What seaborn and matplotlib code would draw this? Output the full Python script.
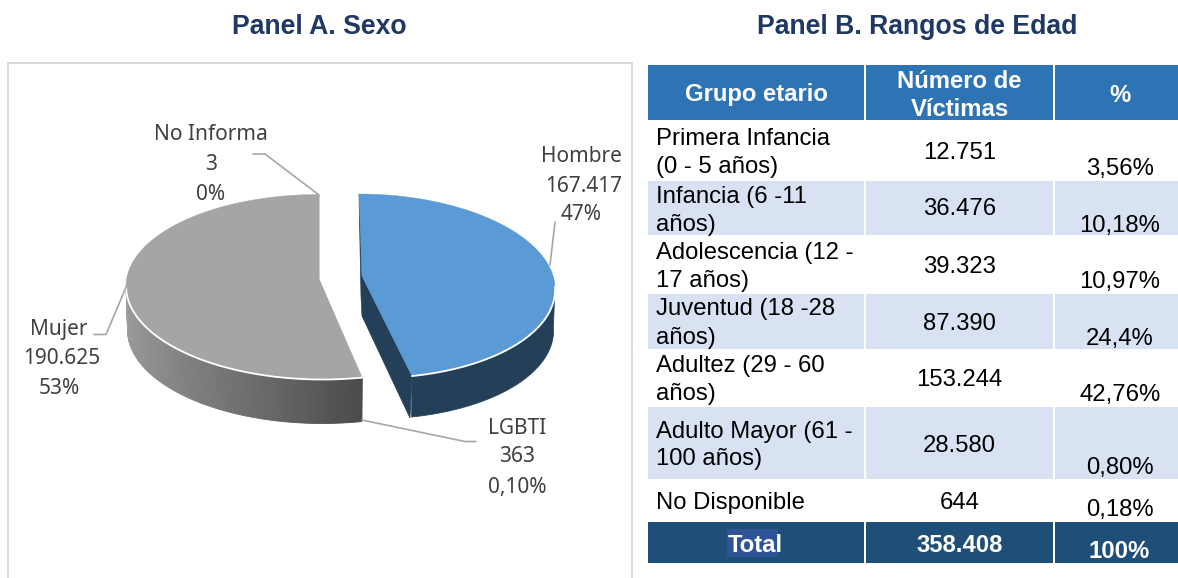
import numpy as np
import matplotlib
matplotlib.use("Agg")
import matplotlib.pyplot as plt
from matplotlib.patches import Rectangle, Polygon
import seaborn as sns

# ---------- data ----------
sex_names = ["Hombre", "LGBTI", "Mujer", "No Informa"]
sex_values = [167417, 363, 190625, 3]
sex_value_labels = ["167.417", "363", "190.625", "3"]
sex_pct_labels = ["47%", "0,10%", "53%", "0%"]

header_labels = [["Grupo etario"], ["Número de", "Víctimas"], ["%"]]
age_groups = [
    ["Primera Infancia", "(0 - 5 años)"],
    ["Infancia (6 -11", "años)"],
    ["Adolescencia (12 -", "17 años)"],
    ["Juventud (18 -28", "años)"],
    ["Adultez (29 - 60", "años)"],
    ["Adulto Mayor (61 -", "100 años)"],
    ["No Disponible"],
]
age_victims = ["12.751", "36.476", "39.323", "87.390", "153.244", "28.580", "644"]
age_pct = ["3,56%", "10,18%", "10,97%", "24,4%", "42,76%", "0,80%", "0,18%"]
total_label = "Total"
total_victims = "358.408"
total_pct = "100%"

# ---------- layout (pixels) ----------
W, H = 1178, 578
TY = 2  # text centring offset
col_x = [(648, 864), (866, 1053), (1055, 1178)]
row_edges = [(120, 181), (181, 235), (235, 294), (294, 349), (349, 407), (407, 479), (479, 522)]
header_y = (65, 120)
total_y = (522, 563)
label_line_y = [(137, 165), (195, 223), (251, 279), (307, 336), (364, 392), (430, 457), (501,)]
victim_y = [151, 207, 265, 322, 378, 444, 501]
pct_y = [167, 224, 280, 337, 393, 466, 508]
pct_x = 1120
table_fs = 17.2
pie_fs = 15

sns.set_theme(style="white")
plt.rcParams["font.family"] = ["Liberation Sans", "DejaVu Sans"]

NAVY, HEAD, LIGHT, TOTAL, HILITE = "#1F3864", "#2E74B5", "#D9E2F3", "#1F4E79", "#2F5496"
BLUE, BLUE_DARK, GRAY = "#5B9BD5", "#243F58", "#A5A5A5"
gray_side = sns.blend_palette(["#9E9E9E", "#8A8A8A", "#6E6E6E", "#4B4B4B"], n_colors=90)
LINE, PIE_TEXT = "#A6A6A6", "#404040"

fig = plt.figure(figsize=(W / 100, H / 100), dpi=100)
ax = fig.add_axes([0, 0, 1, 1])
ax.set_xlim(0, W)
ax.set_ylim(H, 0)
ax.axis("off")

# ---------- titles and frame ----------
ax.text(319.5, 25 + TY, "Panel A. Sexo", ha="center", va="center", fontsize=19.2, fontweight="bold", color=NAVY)
ax.text(917, 25 + TY, "Panel B. Rangos de Edad", ha="center", va="center", fontsize=19.2, fontweight="bold", color=NAVY)
ax.plot([8, 8, 632, 632], [H + 2, 63, 63, H + 2], color="#D9D9D9", lw=1.4, solid_joinstyle="miter")

# ---------- pie ----------
angles = np.concatenate([[0], np.cumsum(sex_values) / np.sum(sex_values) * 360])


def rim(theta, g):
    t = np.radians(theta)
    return (g["cx"] + g["rx"] * np.sin(t) + g["s"] * (1 - np.cos(t)) / 2, g["cy"] - g["ry"] * np.cos(t))


blue_g = dict(cx=359, cy=286, rx=188.8, ry=92, s=14.4, ax=362, ay=276, d=41)
gray_g = dict(cx=319, cy=287, rx=194.6, ry=92.5, s=3.3, ax=319, ay=279, d=44)
geoms = [blue_g, gray_g, gray_g, gray_g]
top_cols = [BLUE, GRAY, GRAY, GRAY]


def low(x, y, g):
    return g["ax"] + (np.asarray(x) - g["ax"]) * 0.992, np.asarray(y) + g["d"]


# Hombre: side and cut faces
a0, a1 = angles[0], angles[1]
th = np.linspace(90, a1, 80)
xt, yt = rim(th, blue_g)
xb, yb = low(xt, yt, blue_g)
ax.add_patch(Polygon(np.r_[np.c_[xt, yt], np.c_[xb, yb][::-1]], fc=BLUE_DARK, ec=BLUE_DARK, lw=0.5))
ex, ey = rim(a1, blue_g)
sx, sy = rim(a0, blue_g)
ax.add_patch(Polygon([(sx, sy), (blue_g["ax"], blue_g["ay"]), (ex, ey), (ex - 2, ey + 42),
                      (blue_g["ax"], blue_g["ay"] + 40), (blue_g["ax"] - 1, blue_g["ay"] + 20)],
                     fc=BLUE_DARK, ec=BLUE_DARK, lw=0.5))

# Mujer: shaded rim made of short strips
edges = np.linspace(angles[2] - 0.4, 270, len(gray_side) + 1)
for i, c in enumerate(gray_side[::-1]):
    th = np.linspace(edges[i], edges[i + 1], 4)
    xt, yt = rim(th, gray_g)
    xb, yb = low(xt, yt, gray_g)
    ax.add_patch(Polygon(np.r_[np.c_[xt, yt], np.c_[xb, yb][::-1]], fc=c, ec=c, lw=0.6))

# top faces
for k in range(len(sex_values)):
    g = geoms[k]
    th = np.linspace(angles[k], angles[k + 1], 200)
    xt, yt = rim(th, g)
    pts = np.r_[[(g["ax"], g["ay"])], np.c_[xt, yt]]
    ax.add_patch(Polygon(pts, fc=top_cols[k], ec=top_cols[k], lw=0.3, zorder=3))
    low_part = (th > 90) & (th < 270)
    ax.plot(xt[low_part], yt[low_part], color="white", lw=1.3, zorder=4)

# leader lines
leaders = {
    "Hombre": ([555, 550], [222, 265]),
    "LGBTI": ([362, 465, 476], [420, 441.5, 441.5]),
    "Mujer": ([94, 106, 126.5], [334.5, 334.5, 286]),
    "No Informa": ([253, 265, 319], [154, 154, 195]),
}
label_pos = {
    "Hombre": ((581, 584, 581), (155, 184, 213)),
    "LGBTI": ((517, 517, 517), (426, 455, 485)),
    "Mujer": ((59, 62, 59), (327, 357, 386)),
    "No Informa": ((211, 211, 211), (133, 162, 192)),
}
for name, val, pct in zip(sex_names, sex_value_labels, sex_pct_labels):
    lx, ly = leaders[name]
    ax.plot(lx, ly, color=LINE, lw=1.2, zorder=5)
    px, py = label_pos[name]
    for s, x, y in zip((name, val, pct), px, py):
        ax.text(x, y + TY, s, ha="center", va="center", fontsize=pie_fs, color=PIE_TEXT, family="Noto Sans", zorder=6)


# ---------- table ----------
def cell(x, y, fc):
    ax.add_patch(Rectangle((x[0], y[0]), x[1] - x[0], y[1] - y[0], fc=fc, ec="none"))


def mid(x):
    return (x[0] + x[1]) / 2


for j, (x, lines) in enumerate(zip(col_x, header_labels)):
    cell(x, header_y, HEAD)
    ys = [93] if len(lines) == 1 else [79, 107]
    cx = pct_x if j == 2 else mid(x)
    for s, y in zip(lines, ys):
        ax.text(cx, y + TY, s, ha="center", va="center", fontsize=table_fs, fontweight="bold", color="white")

for i, (y_rng, lines) in enumerate(zip(row_edges, age_groups)):
    if i % 2 == 1:
        for x in col_x:
            cell(x, y_rng, LIGHT)
    for s, y in zip(lines, label_line_y[i]):
        ax.text(656, y + TY, s, ha="left", va="center", fontsize=table_fs, color="black")
    ax.text(mid(col_x[1]), victim_y[i] + TY, age_victims[i], ha="center", va="center", fontsize=table_fs, color="black")
    ax.text(pct_x, pct_y[i] + TY, age_pct[i], ha="center", va="center", fontsize=table_fs, color="black")

for x in col_x:
    cell(x, total_y, TOTAL)
ax.add_patch(Rectangle((727, 529), 51, 28, fc=HILITE, ec="none"))
ax.text(755.5, 543 + TY, total_label, ha="center", va="center", fontsize=table_fs, fontweight="bold", color="white")
ax.text(mid(col_x[1]), 543 + TY, total_victims, ha="center", va="center", fontsize=table_fs, fontweight="bold", color="white")
ax.text(pct_x - 1, 550 + TY, total_pct, ha="center", va="center", fontsize=table_fs, fontweight="bold", color="white")

fig.savefig("out.png", dpi=100, facecolor="white")
